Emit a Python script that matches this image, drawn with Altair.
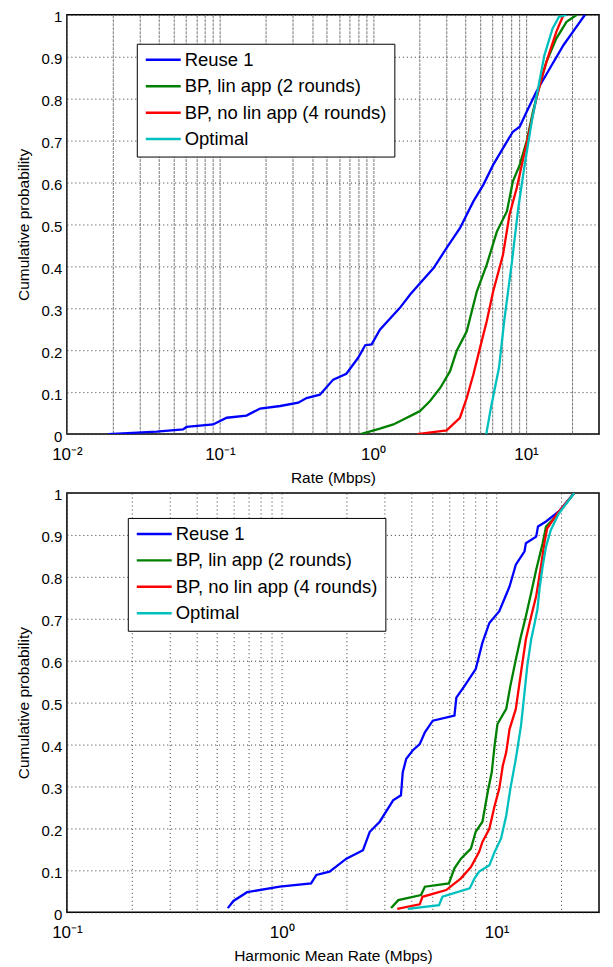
import altair as alt
import pandas as pd

series_names = ["Reuse 1", "BP, lin app (2 rounds)", "BP, no lin app (4 rounds)", "Optimal"]
series_colors = ["#0000FF", "#008000", "#FF0000", "#00BFBF"]

# ---- Top panel: Rate (Mbps) CDFs ----
top_reuse_x = [0.0186, 0.0386, 0.0574, 0.0605, 0.0902, 0.1108, 0.149, 0.183, 0.248, 0.325, 0.368, 0.450,
               0.55, 0.67, 0.80, 0.89, 0.98, 1.11, 1.50, 1.75, 2.03, 2.49, 3.03, 3.70, 4.53, 5.27, 6.10,
               7.08, 8.21, 9.1, 10.1, 11.7, 14.3, 17.6, 20.3, 24.3]
top_reuse_p = [0.0, 0.006, 0.011, 0.017, 0.023, 0.039, 0.044, 0.061, 0.067, 0.075, 0.086, 0.094,
               0.130, 0.144, 0.182, 0.212, 0.214, 0.249, 0.301, 0.333, 0.360, 0.396, 0.444, 0.491, 0.555,
               0.595, 0.642, 0.682, 0.721, 0.733, 0.769, 0.817, 0.872, 0.928, 0.960, 1.0]

top_lin_x = [0.83, 1.11, 1.36, 1.58, 1.84, 2.03, 2.36, 2.75, 3.19, 3.52, 4.1, 4.77, 5.54, 6.45, 7.5,
             8.2, 9.1, 10.1, 11.1, 12.3, 13.6, 15.8, 18.4, 21.5]
top_lin_p = [0.0, 0.013, 0.023, 0.035, 0.047, 0.055, 0.079, 0.110, 0.150, 0.198, 0.245, 0.340, 0.404,
             0.483, 0.531, 0.602, 0.642, 0.698, 0.769, 0.833, 0.888, 0.944, 0.983, 1.0]

top_nolin_x = [1.95, 3.03, 3.70, 4.1, 4.53, 5.0, 5.54, 6.1, 7.08, 7.8, 8.7, 9.6, 10.6, 11.7, 13.0,
               14.3, 15.8, 17.6]
top_nolin_p = [0.0, 0.009, 0.039, 0.086, 0.142, 0.205, 0.269, 0.340, 0.428, 0.523, 0.587, 0.658,
               0.729, 0.801, 0.864, 0.912, 0.960, 1.0]

top_opt_x = [5.5, 5.9, 6.66, 7.2, 8.1, 8.9, 9.8, 10.9, 12.0, 13.2, 14.9, 16.4, 18.4]
top_opt_p = [0.0, 0.063, 0.158, 0.269, 0.412, 0.539, 0.642, 0.745, 0.825, 0.904, 0.967, 0.995, 1.0]

# ---- Bottom panel: Harmonic Mean Rate (Mbps) CDFs ----
bot_reuse_x = [0.561, 0.596, 0.69, 0.98, 1.37, 1.45, 1.67, 2.0, 2.39, 2.57, 2.86, 3.30, 3.59, 3.66,
               3.80, 4.07, 4.39, 4.64, 5.05, 6.37, 6.5, 7.1, 8.0, 8.6, 9.26, 10.3, 11.5, 12.3, 13.5,
               13.7, 15.3, 15.6, 17.0, 19.5, 23.0]
bot_reuse_p = [0.01, 0.027, 0.048, 0.061, 0.069, 0.089, 0.097, 0.128, 0.148, 0.192, 0.216, 0.267,
               0.279, 0.334, 0.366, 0.386, 0.401, 0.429, 0.457, 0.469, 0.512, 0.540, 0.580, 0.643,
               0.690, 0.718, 0.777, 0.829, 0.861, 0.880, 0.896, 0.920, 0.932, 0.956, 1.0]

bot_lin_x = [3.23, 3.49, 4.45, 4.64, 6.0, 6.37, 6.83, 7.6, 8.0, 8.6, 9.1, 9.5, 9.8, 10.1, 11.1, 11.6,
             12.3, 13.0, 13.7, 14.5, 15.3, 16.4, 17.0, 18.9, 23.0]
bot_lin_p = [0.010, 0.029, 0.041, 0.061, 0.069, 0.105, 0.128, 0.152, 0.192, 0.216, 0.287, 0.334,
             0.398, 0.449, 0.485, 0.540, 0.603, 0.659, 0.706, 0.762, 0.817, 0.880, 0.920, 0.944, 1.0]

bot_nolin_x = [3.45, 4.39, 4.52, 5.83, 6.83, 7.6, 8.3, 8.6, 9.26, 9.8, 10.3, 10.7, 11.1, 11.5, 12.3,
               13.0, 13.7, 14.5, 15.3, 16.1, 16.7, 17.2, 19.2, 23.0]
bot_nolin_p = [0.008, 0.019, 0.037, 0.053, 0.081, 0.108, 0.144, 0.168, 0.199, 0.254, 0.295, 0.350,
               0.382, 0.437, 0.485, 0.572, 0.651, 0.706, 0.754, 0.825, 0.880, 0.915, 0.951, 1.0]

bot_opt_x = [3.86, 5.4, 5.6, 7.5, 7.9, 8.3, 9.26, 9.8, 10.5, 11.1, 11.6, 12.3, 13.0, 13.5, 13.9, 14.5,
             15.0, 15.5, 15.9, 16.4, 17.0, 17.9, 19.5, 23.0]
bot_opt_p = [0.008, 0.017, 0.037, 0.057, 0.081, 0.097, 0.112, 0.144, 0.176, 0.231, 0.295, 0.366,
             0.445, 0.524, 0.587, 0.651, 0.686, 0.722, 0.777, 0.825, 0.872, 0.912, 0.951, 1.0]

y_ticks = [0, 0.1, 0.2, 0.3, 0.4, 0.5, 0.6, 0.7, 0.8, 0.9, 1]
top_grid_x = [k * 10.0 ** e for e in (-2, -1, 0, 1) for k in range(1, 10) if k * 10.0 ** e <= 20.5]
bot_grid_x = [k * 10.0 ** e for e in (-1, 0, 1) for k in range(1, 10) if k * 10.0 ** e <= 20.5]

FONT = "Liberation Sans"


def make_df(xs_list, ps_list):
    rows = []
    for name, xs, ps in zip(series_names, xs_list, ps_list):
        for i, (x, p) in enumerate(zip(xs, ps)):
            rows.append({"series": name, "x": x, "p": p, "i": i})
    return pd.DataFrame(rows)


label_expr = ("datum.value > 0.009 && datum.value < 0.011 ? '10⁻²' : "
              "datum.value > 0.09 && datum.value < 0.11 ? '10⁻¹' : "
              "datum.value > 0.9 && datum.value < 1.1 ? '10⁰' : "
              "datum.value > 9 && datum.value < 11 ? '10¹' : ''")


def panel(df, domain, grid_vals, xtitle, vgrid_dash, vgrid_color, lx, ly):
    return alt.Chart(df).mark_line(strokeWidth=2.3, clip=True).encode(
        x=alt.X("x:Q", title=xtitle,
                scale=alt.Scale(type="log", domain=domain, nice=False),
                axis=alt.Axis(values=grid_vals, labelExpr=label_expr, labelOverlap=False,
                              labelFlush=False, ticks=False, domain=False,
                              gridDash=vgrid_dash, gridColor=vgrid_color, gridOpacity=1,
                              labelFontSize=17, labelPadding=12, titlePadding=8,
                              titleFontSize=15.5, titleFontWeight="normal", titleFont=FONT,
                              labelFont=FONT, labelColor="black", titleColor="black")),
        y=alt.Y("p:Q", title="Cumulative probability",
                scale=alt.Scale(domain=[0, 1], nice=False),
                axis=alt.Axis(values=y_ticks, format="~g", ticks=False, domain=False,
                              gridDash=[1, 3], gridColor="#333", gridOpacity=1,
                              labelFontSize=15, labelPadding=5, titlePadding=10,
                              labelOffset=2,
                              titleFontSize=15.5, titleFontWeight="normal", titleFont=FONT,
                              labelFont=FONT, labelColor="black", titleColor="black")),
        color=alt.Color("series:N",
                        scale=alt.Scale(domain=series_names, range=series_colors),
                        legend=alt.Legend(title=None, orient="none", legendX=lx, legendY=ly,
                                          symbolType="stroke", symbolSize=1225,
                                          symbolStrokeWidth=2.5, labelOffset=2.5,
                                          clipHeight=17,
                                          labelFontSize=18.5, labelFont=FONT, labelLimit=0,
                                          labelColor="black",
                                          strokeColor="black", fillColor="white",
                                          padding=7.5, rowPadding=7.5)),
        order=alt.Order("i:Q"),
    ).properties(width=533, height=420)


top = panel(make_df([top_reuse_x, top_lin_x, top_nolin_x, top_opt_x],
                    [top_reuse_p, top_lin_p, top_nolin_p, top_opt_p]),
            [0.01, 30], top_grid_x, "Rate (Mbps)", [3, 1], "#777", 70, 29)
bot = panel(make_df([bot_reuse_x, bot_lin_x, bot_nolin_x, bot_opt_x],
                    [bot_reuse_p, bot_lin_p, bot_nolin_p, bot_opt_p]),
            [0.1, 30], bot_grid_x, "Harmonic Mean Rate (Mbps)", [1, 3], "#333", 61, 25)

chart = alt.vconcat(top, bot, spacing=0).resolve_scale(color="independent").resolve_legend(
    color="independent"
).properties(padding={"left": 7, "top": 0, "right": 5, "bottom": 0}, background="white").configure_view(
    stroke="black", strokeWidth=1.5
)

chart.save("out.html", embed_options={"renderer": "svg", "actions": False})
